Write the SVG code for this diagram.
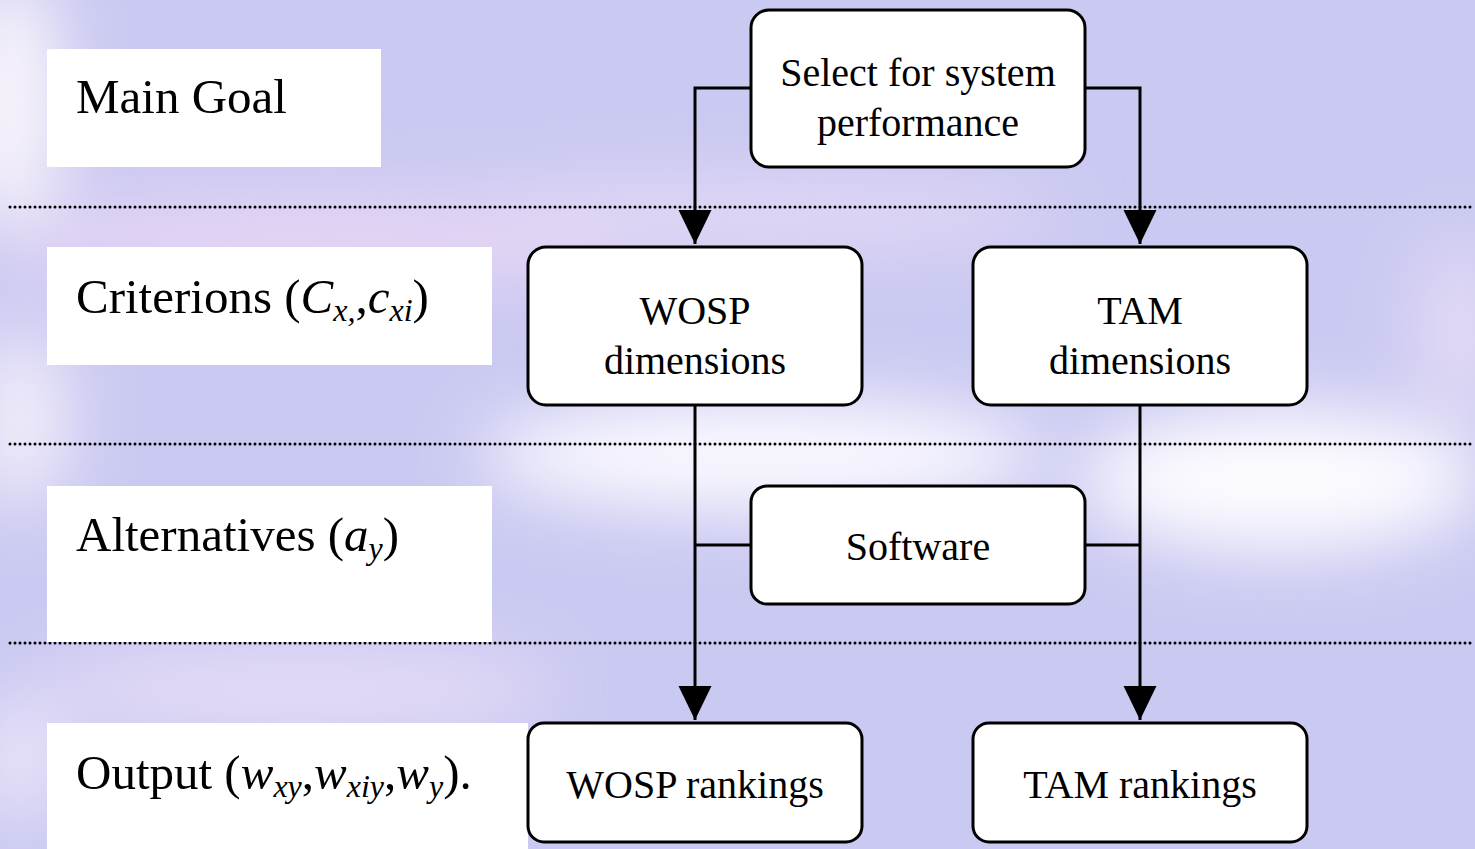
<svg xmlns="http://www.w3.org/2000/svg" width="1475" height="849" viewBox="0 0 1475 849">
<style>
.t{font-family:"Liberation Serif","Times New Roman",serif;fill:#000}
.lbl{font-size:49px}
.nd{font-size:40px;text-anchor:middle}
.sub{font-size:32px;font-style:italic}
.it{font-style:italic}
.box{fill:#fff;stroke:#000;stroke-width:3}
.lb{fill:#fff}
.con{fill:none;stroke:#000;stroke-width:3}
.dot{stroke:#000;stroke-width:3;stroke-dasharray:0 5;stroke-linecap:round}
</style>
<defs>
<filter id="bl" x="-50%" y="-50%" width="200%" height="200%"><feGaussianBlur stdDeviation="35"/></filter>
<marker id="ah" markerUnits="userSpaceOnUse" markerWidth="34" markerHeight="34" viewBox="0 0 33 32" refX="33" refY="16" orient="auto">
<path d="M0,0 L33,16 L0,32 Z" fill="#000"/>
</marker>
</defs>
<g id="background">
<rect x="0" y="0" width="1475" height="849" fill="#cac9f1"/>
<g filter="url(#bl)">
<ellipse cx="10" cy="100" rx="50" ry="130" fill="#fbf7fc"/>
<ellipse cx="20" cy="420" rx="45" ry="90" fill="#f4f0fb"/>
<ellipse cx="330" cy="240" rx="330" ry="40" fill="#e9d6f5"/>
<ellipse cx="760" cy="215" rx="300" ry="30" fill="#e6daf6"/>
<ellipse cx="760" cy="455" rx="280" ry="55" fill="#fbfaff"/>
<ellipse cx="1280" cy="480" rx="200" ry="70" fill="#fdfcff"/>
<ellipse cx="1460" cy="330" rx="40" ry="90" fill="#e6dcf5"/>
<ellipse cx="300" cy="690" rx="260" ry="40" fill="#e7ddf6"/>
<ellipse cx="20" cy="760" rx="40" ry="60" fill="#efe8fa"/>
</g>
</g>
<g id="dividers">
<line class="dot" x1="10" y1="207" x2="1475" y2="207"/>
<line class="dot" x1="10" y1="444" x2="1475" y2="444"/>
<line class="dot" x1="10" y1="643" x2="1475" y2="643"/>
</g>
<g id="label-main-goal">
<rect class="lb" x="47" y="49" width="334" height="118"/>
<text class="t lbl" x="76" y="113">Main Goal</text>
</g>
<g id="label-criterions">
<rect class="lb" x="47" y="247" width="445" height="118"/>
<text class="t lbl" x="76" y="313">Criterions (<tspan class="it">C</tspan><tspan class="sub" dy="8">x,</tspan><tspan dy="-8">,</tspan><tspan class="it">c</tspan><tspan class="sub" dy="8">xi</tspan><tspan dy="-8">)</tspan></text>
</g>
<g id="label-alternatives">
<rect class="lb" x="47" y="486" width="445" height="156"/>
<text class="t lbl" x="76" y="551">Alternatives (<tspan class="it">a</tspan><tspan class="sub" dy="8">y</tspan><tspan dy="-8">)</tspan></text>
</g>
<g id="label-output">
<rect class="lb" x="47" y="723" width="481" height="126"/>
<text class="t lbl" x="76" y="789">Output (<tspan class="it">w</tspan><tspan class="sub" dy="8">xy</tspan><tspan dy="-8">,</tspan><tspan class="it">w</tspan><tspan class="sub" dy="8">xiy</tspan><tspan dy="-8">,</tspan><tspan class="it">w</tspan><tspan class="sub" dy="8">y</tspan><tspan dy="-8">).</tspan></text>
</g>
<g id="connectors">
<path class="con" d="M751,88 H695 V244" marker-end="url(#ah)"/>
<path class="con" d="M1085,88 H1140 V244" marker-end="url(#ah)"/>
<path class="con" d="M695,405 V720" marker-end="url(#ah)"/>
<path class="con" d="M1140,405 V720" marker-end="url(#ah)"/>
<path class="con" d="M751,545 H695"/>
<path class="con" d="M1085,545 H1140"/>
</g>
<g id="node-select">
<rect class="box" x="751" y="10" width="334" height="157" rx="18"/>
<text class="t nd" x="918" y="86">Select for system</text>
<text class="t nd" x="918" y="136">performance</text>
</g>
<g id="node-wosp-dimensions">
<rect class="box" x="528" y="247" width="334" height="158" rx="18"/>
<text class="t nd" x="695" y="324">WOSP</text>
<text class="t nd" x="695" y="374">dimensions</text>
</g>
<g id="node-tam-dimensions">
<rect class="box" x="973" y="247" width="334" height="158" rx="18"/>
<text class="t nd" x="1140" y="324">TAM</text>
<text class="t nd" x="1140" y="374">dimensions</text>
</g>
<g id="node-software">
<rect class="box" x="751" y="486" width="334" height="118" rx="16"/>
<text class="t nd" x="918" y="560">Software</text>
</g>
<g id="node-wosp-rankings">
<rect class="box" x="528" y="723" width="334" height="119" rx="16"/>
<text class="t nd" x="695" y="798">WOSP rankings</text>
</g>
<g id="node-tam-rankings">
<rect class="box" x="973" y="723" width="334" height="119" rx="16"/>
<text class="t nd" x="1140" y="798">TAM rankings</text>
</g>
</svg>
